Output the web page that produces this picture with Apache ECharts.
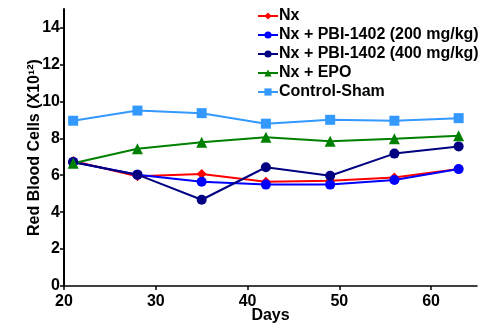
<!DOCTYPE html>
<html>
<head>
<meta charset="utf-8">
<script src="https://cdn.jsdelivr.net/npm/echarts@6/dist/echarts.min.js"></script>
<style>
  html, body { margin: 0; padding: 0; background: #fff; }
  #chart { width: 498px; height: 329px; }
</style>
</head>
<body>
<div id="chart"></div>
<script>
// days of measurement
const days = [21, 28, 35, 42, 49, 56, 63]
const nx = [6.77, 5.94, 6.06, 5.65, 5.70, 5.88, 6.33]
const pbi200 = [6.72, 6.03, 5.65, 5.49, 5.49, 5.74, 6.33]
const pbi400 = [6.70, 6.03, 4.67, 6.43, 5.97, 7.17, 7.56]
const epo = [6.65, 7.43, 7.79, 8.06, 7.84, 7.98, 8.14]
const sham = [8.95, 9.50, 9.36, 8.79, 9.00, 8.95, 9.09]
const seriesNames = ['Nx', 'Nx + PBI-1402 (200 mg/kg)', 'Nx + PBI-1402 (400 mg/kg)', 'Nx + EPO', 'Control-Sham']

const font = 'Liberation Sans, Arial, sans-serif'

function mkSeries(name, vals, color, symbol, size) {
  return {
    name: name,
    type: 'line',
    data: days.map((d, i) => [d, vals[i]]),
    symbol: symbol,
    symbolSize: size,
    itemStyle: { color: color },
    lineStyle: { color: color, width: 2 },
    emphasis: { disabled: true }
  }
}

const chart = echarts.init(document.getElementById('chart'))
chart.setOption({
  animation: false,
  backgroundColor: '#fff',
  grid: { left: 64, right: 21, top: 9, bottom: 39, containLabel: false },
  legend: {
    orient: 'vertical',
    left: 252,
    top: 3,
    itemGap: 3,
    itemWidth: 20,
    itemHeight: 9,
    data: seriesNames,
    textStyle: { fontFamily: font, fontWeight: 'bold', fontSize: 16, color: '#000', padding: [0, 0, 0, -4] }
  },
  xAxis: {
    type: 'value',
    min: 20,
    max: 65,
    interval: 10,
    name: 'Days',
    nameLocation: 'middle',
    nameGap: 22,
    nameMoveOverlap: false,
    nameTextStyle: { fontFamily: font, fontWeight: 'bold', fontSize: 16, color: '#000' },
    splitLine: { show: false },
    axisLine: { lineStyle: { color: '#000', width: 1.5 } },
    axisTick: { show: true, length: 4, lineStyle: { color: '#000', width: 1.5 } },
    axisLabel: {
      fontFamily: font, fontWeight: 'bold', fontSize: 16, color: '#000', margin: 8,
      showMaxLabel: false
    }
  },
  yAxis: {
    type: 'value',
    min: 0,
    max: 15,
    interval: 2,
    name: 'Red Blood Cells (X10¹²)',
    nameLocation: 'middle',
    nameGap: 21,
    nameMoveOverlap: false,
    nameRotate: 90,
    nameTextStyle: { fontFamily: font, fontWeight: 'bold', fontSize: 16, color: '#000' },
    splitLine: { show: false },
    axisLine: { show: true, lineStyle: { color: '#000', width: 2 } },
    axisTick: { show: true, length: 4, lineStyle: { color: '#000', width: 1.5 } },
    axisLabel: {
      fontFamily: font, fontWeight: 'bold', fontSize: 16, color: '#000', margin: 4,
      showMaxLabel: false
    }
  },
  series: [
    mkSeries(seriesNames[0], nx, '#ff0000', 'diamond', 10),
    mkSeries(seriesNames[1], pbi200, '#0000ff', 'circle', 10),
    mkSeries(seriesNames[2], pbi400, '#000080', 'circle', 10),
    mkSeries(seriesNames[3], epo, '#008000', 'triangle', 11),
    mkSeries(seriesNames[4], sham, '#3399ff', 'rect', 10)
  ]
})
</script>
</body>
</html>
